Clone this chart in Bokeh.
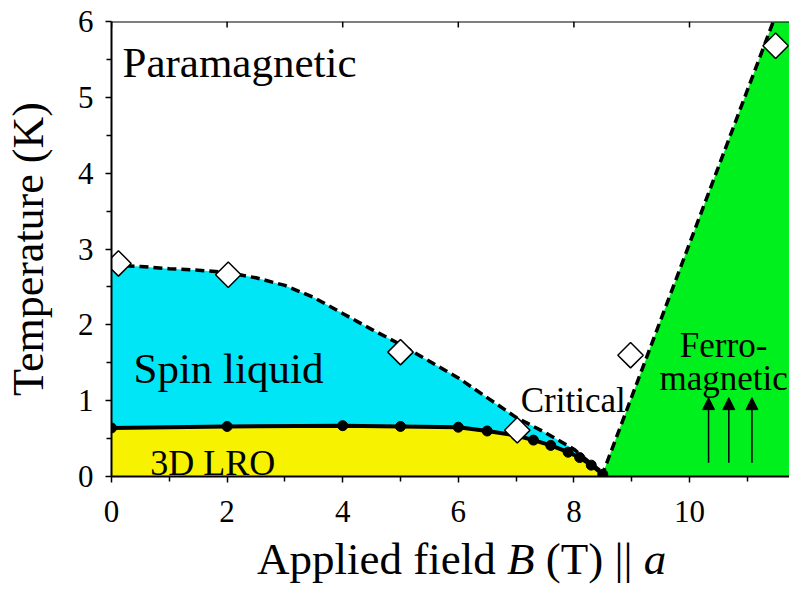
import math
from bokeh.plotting import figure
from bokeh.layouts import column
from bokeh.models import (Range1d, FixedTicker, Arrow, NormalHead,
                          ColumnDataSource, Span, Div)
from bokeh.core.properties import value
from bokeh.embed import file_html
from bokeh.resources import INLINE

# ---------------- data ----------------
# paramagnetic / spin-liquid crossover (dashed curve)
pm_B = [0.0, 0.5, 1.0, 1.5, 2.0, 2.5, 3.0, 3.5, 4.0, 4.5, 5.0, 5.5, 6.0, 6.5,
        7.0, 7.5, 8.0, 8.25, 8.5]
pm_T = [2.79, 2.77, 2.74, 2.72, 2.69, 2.62, 2.52, 2.36, 2.15, 1.94, 1.74, 1.52,
        1.30, 1.04, 0.78, 0.58, 0.36, 0.20, 0.05]

# 3D long-range order boundary (solid curve with dots)
lro_B = [0.0, 2.0, 4.0, 5.0, 6.0, 6.5, 7.0, 7.3, 7.6, 7.9, 8.1, 8.3, 8.5]
lro_T = [0.64, 0.66, 0.67, 0.66, 0.65, 0.60, 0.54, 0.48, 0.41, 0.32, 0.25,
         0.15, 0.03]

# ferromagnetic boundary (dashed straight line)
fm_B = [8.48, 11.45]
fm_T = [0.0, 6.0]

# open diamond data points
dia_B = [0.12, 2.02, 5.0, 7.02, 8.98, 11.49]
dia_T = [2.81, 2.66, 1.64, 0.61, 1.60, 5.68]

# spin arrows in ferromagnetic phase
arrow_B = [10.33, 10.68, 11.08]
arrow_T0 = [0.18, 0.18, 0.18]
arrow_T1 = [1.04, 1.04, 1.04]

x_ticks = [0, 2, 4, 6, 8, 10]
x_minor = [1, 3, 5, 7, 9, 11]
y_ticks = [0, 1, 2, 3, 4, 5, 6]
y_minor = [0.5, 1.5, 2.5, 3.5, 4.5, 5.5]

B_MAX = 11.73
T_MAX = 6.0

CYAN = "#00E6F6"
YELLOW = "#F6F200"
GREEN = "#00F01E"
FONT = "Liberation Serif"

# ---------------- figure ----------------
fig = figure(width=789, height=536, output_backend="svg", toolbar_location=None,
             x_range=Range1d(0, B_MAX), y_range=Range1d(0, T_MAX),
             min_border_left=111, min_border_right=0, min_border_top=21,
             min_border_bottom=60)
fig.xgrid.visible = False
fig.ygrid.visible = False
fig.outline_line_color = None
fig.background_fill_color = "white"
fig.border_fill_color = "white"

# phase regions
fig.varea(x=pm_B, y1=[0] * len(pm_B), y2=pm_T, fill_color=CYAN)
fig.varea(x=lro_B, y1=[0] * len(lro_B), y2=lro_T, fill_color=YELLOW)
fig.patch(x=[fm_B[0], fm_B[1], B_MAX + 1, B_MAX + 1],
          y=[fm_T[0], fm_T[1], T_MAX, 0], fill_color=GREEN, line_color=None)

# boundaries
fig.line(pm_B, pm_T, line_color="black", line_width=3.5, line_dash="9 5")
fig.line(fm_B, fm_T, line_color="black", line_width=3.5, line_dash="9 5")
fig.line(lro_B, lro_T, line_color="black", line_width=4)
fig.scatter(lro_B, lro_T, size=10, marker="circle", fill_color="black",
            line_color="black")
fig.scatter(dia_B, dia_T, size=18, marker="square", angle=math.pi / 4,
            fill_color="white", line_color="black", line_width=1.5)

# arrows
asrc = ColumnDataSource(dict(x0=arrow_B, y0=arrow_T0, x1=arrow_B, y1=arrow_T1))
fig.add_layout(Arrow(source=asrc, x_start="x0", y_start="y0", x_end="x1",
                     y_end="y1", line_color="black", line_width=1.5,
                     end=NormalHead(size=12, fill_color="black",
                                    line_color="black", line_width=1)))

# region labels
def txt(x, y, s, size, align="left"):
    fig.text(x=[x], y=[y], text=[s], text_font=value(FONT),
             text_font_size=size, text_align=align,
             text_baseline="alphabetic", text_color="black")

txt(0.19, 5.46, "Paramagnetic", "43px")
txt(0.38, 1.42, "Spin liquid", "43px")
txt(0.67, 0.18, "3D LRO", "36px")
txt(7.08, 1.00, "Critical", "35px")
txt(10.59, 1.73, "Ferro-", "35px", "center")
txt(10.59, 1.29, "magnetic", "35px", "center")

# axes
xa = fig.xaxis[0]
xa.ticker = FixedTicker(ticks=x_ticks, minor_ticks=x_minor)
ya = fig.yaxis[0]
ya.ticker = FixedTicker(ticks=y_ticks, minor_ticks=y_minor)
for ax in (xa, ya):
    ax.axis_line_color = "black"
    ax.axis_line_width = 2
    ax.major_tick_line_color = "black"
    ax.minor_tick_line_color = "black"
    ax.major_tick_line_width = 1.5
    ax.minor_tick_line_width = 1.5
    ax.major_tick_out = 6
    ax.major_tick_in = 0
    ax.minor_tick_out = 5
    ax.minor_tick_in = 0
    ax.major_label_text_font = FONT
    ax.major_label_text_font_size = "31px"
    ax.major_label_text_color = "black"
    ax.axis_label_text_font = FONT
    ax.axis_label_text_font_size = "44px"
    ax.axis_label_text_font_style = "normal"
    ax.axis_label_text_color = "black"
xa.major_label_standoff = 18
ya.major_label_standoff = 12
ya.axis_label = "Temperature (K)"
ya.axis_label_standoff = 22

# top frame line with inward ticks
fig.add_layout(Span(location=T_MAX, dimension="width", line_color="black",
                    line_width=2))
fig.segment(x0=x_ticks, y0=[T_MAX] * len(x_ticks), x1=x_ticks,
            y1=[T_MAX - 0.08] * len(x_ticks), line_color="black",
            line_width=1.5)

# x-axis label (italic B and a) as real HTML text below the figure
xlabel = Div(
    text=('<div style="margin:0;padding:8px 0 0 257px;white-space:nowrap;'
          'font-family:\'Liberation Serif\';font-size:45px;line-height:30px;'
          'color:black">Applied field <i>B</i> (T) || <i>a</i></div>'),
    width=789, height=54, margin=(0, 0, 0, 0))

p = column(fig, xlabel, spacing=0)

open("out.html", "w").write(file_html(p, INLINE))
